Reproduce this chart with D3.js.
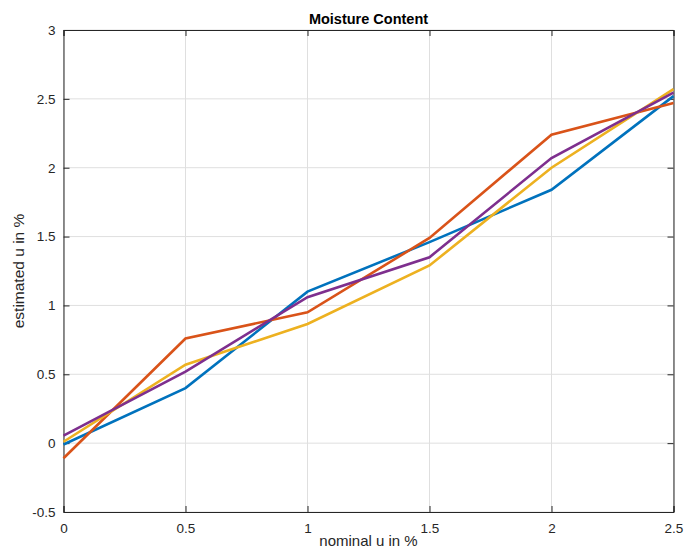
<!DOCTYPE html>
<html>
<head>
<meta charset="utf-8">
<script src="https://cdn.jsdelivr.net/npm/d3@7"></script>
<style>
  body { margin: 0; background: #fff; }
  svg { font-family: "Liberation Sans", Arial, sans-serif; }
</style>
</head>
<body>
<svg width="686" height="552"></svg>
<script>
(function () {

  // nominal values along x
  var nominal = [0, 0.5, 1, 1.5, 2, 2.5]

  // one array per line
  var seriesBlue   = [-0.01, 0.40, 1.10, 1.46, 1.84, 2.52]
  var seriesRed    = [-0.11, 0.76, 0.95, 1.49, 2.24, 2.47]
  var seriesYellow = [0.01, 0.57, 0.865, 1.29, 2.00, 2.57]
  var seriesPurple = [0.055, 0.52, 1.06, 1.35, 2.07, 2.545]

  var xTicks = [0, 0.5, 1, 1.5, 2, 2.5]
  var yTicks = [-0.5, 0, 0.5, 1, 1.5, 2, 2.5, 3]

  var series = [
    { values: seriesBlue, color: '#0072BD' },
    { values: seriesRed, color: '#D95319' },
    { values: seriesYellow, color: '#EDB120' },
    { values: seriesPurple, color: '#7E2F8E' }
  ]

  var left = 63.5, right = 673.5, top = 30, bottom = 512

  var xScale = d3.scaleLinear().domain([0, 2.5]).range([left, right])
  var yScale = d3.scaleLinear().domain([-0.5, 3]).range([bottom, top])

  var svg = d3.select('svg')

  // grid
  svg.append('g').selectAll('line')
    .data(xTicks)
    .enter().append('line')
    .attr('x1', function (d) { return xScale(d) })
    .attr('x2', function (d) { return xScale(d) })
    .attr('y1', top).attr('y2', bottom)
    .attr('stroke', '#dfdfdf').attr('stroke-width', 1)

  svg.append('g').selectAll('line')
    .data(yTicks)
    .enter().append('line')
    .attr('y1', function (d) { return yScale(d) })
    .attr('y2', function (d) { return yScale(d) })
    .attr('x1', left).attr('x2', right)
    .attr('stroke', '#dfdfdf').attr('stroke-width', 1)

  // axes: ticks point inward, box on all four sides
  var fmt = function (d) { return String(d) }

  var xAxis = svg.append('g')
    .attr('transform', 'translate(0,' + bottom + ')')
    .call(d3.axisBottom(xScale).tickValues(xTicks).tickSize(-6).tickPadding(11).tickFormat(fmt))
  var xAxisTop = svg.append('g')
    .attr('transform', 'translate(0,' + top + ')')
    .call(d3.axisTop(xScale).tickValues(xTicks).tickSize(-6).tickFormat(''))
  var yAxis = svg.append('g')
    .attr('transform', 'translate(' + left + ',0)')
    .call(d3.axisLeft(yScale).tickValues(yTicks).tickSize(-6).tickPadding(8).tickFormat(fmt))
  var yAxisRight = svg.append('g')
    .attr('transform', 'translate(' + right + ',0)')
    .call(d3.axisRight(yScale).tickValues(yTicks).tickSize(-6).tickFormat(''))

  ;[xAxis, xAxisTop, yAxis, yAxisRight].forEach(function (g) {
    g.select('.domain').attr('stroke', '#262626').attr('stroke-width', 1)
    g.selectAll('.tick line').attr('stroke', '#262626')
    g.selectAll('.tick text')
      .attr('fill', '#262626')
      .style('font-size', '13.5px')
      .style('font-family', '"Liberation Sans", Arial, sans-serif')
  })

  // lines
  var line = d3.line()
    .x(function (d, i) { return xScale(nominal[i]) })
    .y(function (d) { return yScale(d) })

  svg.append('g').selectAll('path')
    .data(series)
    .enter().append('path')
    .attr('d', function (d) { return line(d.values) })
    .attr('fill', 'none')
    .attr('stroke', function (d) { return d.color })
    .attr('stroke-width', 2.6)
    .attr('stroke-linejoin', 'miter')

  // labels
  svg.append('text')
    .attr('x', (left + right) / 2).attr('y', 24)
    .attr('text-anchor', 'middle')
    .style('font-size', '14.5px').style('font-weight', 'bold')
    .attr('fill', '#000')
    .text('Moisture Content')

  svg.append('text')
    .attr('x', (left + right) / 2).attr('y', 546)
    .attr('text-anchor', 'middle')
    .style('font-size', '15px')
    .attr('fill', '#262626')
    .text('nominal u in %')

  svg.append('text')
    .attr('transform', 'translate(24,' + ((top + bottom) / 2) + ') rotate(-90)')
    .attr('text-anchor', 'middle')
    .style('font-size', '15.5px')
    .attr('fill', '#262626')
    .text('estimated u in %')

})()
</script>
</body>
</html>
